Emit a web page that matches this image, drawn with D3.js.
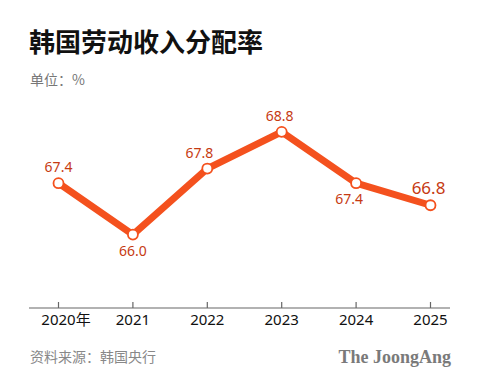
<!DOCTYPE html>
<html>
<head>
<meta charset="utf-8">
<title>韩国劳动收入分配率</title>
<script src="https://cdn.jsdelivr.net/npm/d3@7"></script>
<style>
  body { margin: 0; background: #fff; }
  svg text { font-family: "Noto Sans", "Noto Sans CJK SC", sans-serif; }
</style>
</head>
<body>
<div id="chart"></div>
<script>
// data
var years = ["2020", "2021", "2022", "2023", "2024", "2025"];
var values = [67.4, 66.0, 67.8, 68.8, 67.4, 66.8];
var labelPos = ["above", "below", "above", "above", "below", "above"];
var yDomain = [64, 69];

var width = 480, height = 386;
var lineColor = "#f4511e", labelColor = "#c63a12";
var cjk = "'Noto Sans CJK SC', sans-serif";

var svg = d3.select("#chart").append("svg")
  .attr("width", width)
  .attr("height", height);

// title + unit
svg.append("text")
  .attr("x", 29).attr("y", 52)
  .style("font-family", cjk)
  .attr("font-size", 26).attr("font-weight", 700)
  .attr("fill", "#111")
  .text("韩国劳动收入分配率");

svg.append("text")
  .attr("x", 30).attr("y", 85)
  .style("font-family", cjk)
  .attr("font-size", 14).attr("fill", "#777")
  .text("单位：%");

var x = d3.scalePoint().domain(years).range([58.5, 430.5]);
var y = d3.scaleLinear().domain(yDomain).range([308, 124.5]);

// x axis
var axis = svg.append("g")
  .attr("transform", "translate(0,308)");
axis.append("line")
  .attr("x1", 29).attr("x2", 450)
  .attr("stroke", "#666").attr("stroke-width", 1.2);
axis.selectAll(".tick").data(years).enter().append("line")
  .attr("x1", function(d) { return x(d); })
  .attr("x2", function(d) { return x(d); })
  .attr("y1", 0).attr("y2", -6)
  .attr("stroke", "#666").attr("stroke-width", 1.2);
var tl = axis.selectAll(".tl").data(years).enter().append("text")
  .attr("x", function(d) { return x(d); })
  .attr("y", 17)
  .attr("text-anchor", "middle")
  .attr("font-size", 15)
  .attr("fill", "#111");
tl.append("tspan").text(function(d) { return d; });
tl.filter(function(d, i) { return i === 0; })
  .attr("text-anchor", "start")
  .each(function(d) {
    var w = this.getComputedTextLength();
    d3.select(this).attr("x", x(d) - w / 2);
  })
  .append("tspan")
  .style("font-family", cjk)
  .text("年");

// line
var pts = years.map(function(d, i) { return [x(d), y(values[i])]; });
svg.append("path")
  .attr("d", d3.line()(pts))
  .attr("fill", "none")
  .attr("stroke", lineColor)
  .attr("stroke-width", 7)
  .attr("stroke-linejoin", "round");

svg.selectAll(".dot").data(pts).enter().append("circle")
  .attr("cx", function(d) { return d[0]; })
  .attr("cy", function(d) { return d[1]; })
  .attr("r", 5)
  .attr("fill", "#fff")
  .attr("stroke", lineColor)
  .attr("stroke-width", 1.8);

// value labels
var dxs = [0, 0, -8, -2, -7, -2];
svg.selectAll(".val").data(values).enter().append("text")
  .attr("x", function(d, i) { return pts[i][0] + dxs[i]; })
  .attr("y", function(d, i) {
    return labelPos[i] === "above" ? pts[i][1] - 11 : pts[i][1] + 21;
  })
  .attr("text-anchor", "middle")
  .attr("font-size", function(d, i) { return i === values.length - 1 ? 17 : 14; })
  .attr("fill", labelColor)
  .text(function(d) { return d.toFixed(1); });

// footer
svg.append("text")
  .attr("x", 30).attr("y", 362)
  .style("font-family", cjk)
  .attr("font-size", 14).attr("fill", "#888")
  .text("资料来源：韩国央行");

svg.append("text")
  .attr("x", 451).attr("y", 363)
  .attr("text-anchor", "end")
  .style("font-family", "'Liberation Serif', serif")
  .attr("font-size", 18).attr("font-weight", 700)
  .attr("fill", "#7a7a7a")
  .text("The JoongAng");
</script>
</body>
</html>
